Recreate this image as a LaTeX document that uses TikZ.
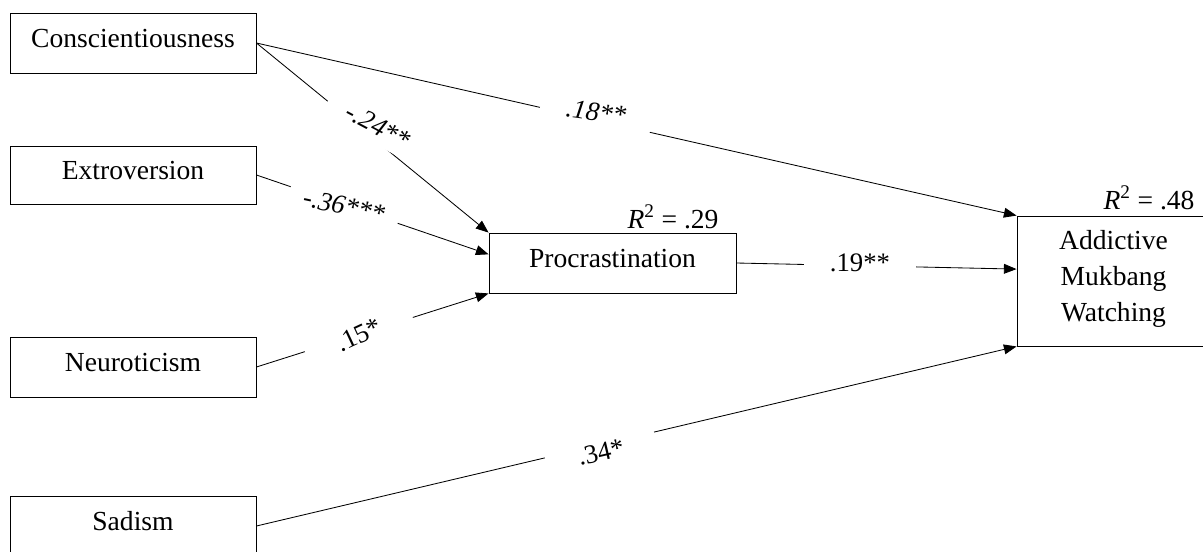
\documentclass[tikz,border=0pt]{standalone}
\usepackage{fontspec}
\setmainfont{Liberation Serif}
\usetikzlibrary{arrows.meta}

\begin{document}
\begin{tikzpicture}[x=0.025cm, y=-0.025cm,
  var/.style={draw, line width=0.6pt, inner sep=0pt, minimum width=6.15cm,
              minimum height=1.5cm, text depth=7pt,
              font=\fontsize{19.6}{25.6}\selectfont},
  effect/.style={line width=0.6pt, -{Triangle[length=9pt, width=7pt]}},
  coef/.style={fill=white, inner ysep=6pt, minimum width=2.8cm,
               font=\fontsize{19}{22}\selectfont},
  rsq/.style={font=\fontsize{19.6}{22}\selectfont}
]
  \useasboundingbox (0,0) rectangle (1203,552);

  % Predictors, mediator and outcome
  \node[var] (consc) at (133,43) {Conscientiousness};
  \node[var, minimum height=1.45cm] (extro) at (133,175) {Extroversion};
  \node[var] (neuro) at (133,367) {Neuroticism};
  \node[var] (sadism) at (133,526) {Sadism};
  \node[var, minimum width=6.175cm] (procr) at (612.5,263) {Procrastination};
  \node[var, minimum width=4.825cm, minimum height=3.25cm, align=center]
    (amw) at (1113.5,281) {Addictive\\Mukbang\\Watching};

  % Paths
  \draw[effect] (consc.east) -- (procr.north west);
  \draw[effect] (consc.east) -- (amw.north west);
  \draw[effect] (extro.east) -- (procr.176);
  \draw[effect] (neuro.east) -- (procr.south west);
  \draw[effect] (procr.east) -- (amw.173);
  \draw[effect] (sadism.east) -- (amw.south west);

  % Coefficients
  \node[coef, rotate=-28] (b-consc-procr) at (378,126) {\textit{-.24**}};
  \node[coef, rotate=-12] (b-extro) at (344,206) {\textit{-.36***}};
  \node[coef, rotate=-8] (b-consc-amw) at (596,112) {\textit{.18**}};
  \node[coef, rotate=25] (b-neuro) at (359,335) {.15*};
  \node[coef, rotate=13] (b-sadism) at (601,452) {.34*};
  \node[coef] (b-procr) at (860,263) {.19**};

  % Explained variance
  \node[rsq] (r-procr) at (673,217) {\textit{R}\textsuperscript{2} = .29};
  \node[rsq] (r-amw) at (1149,198) {\textit{R}\textsuperscript{2} = .48};
\end{tikzpicture}
\end{document}
